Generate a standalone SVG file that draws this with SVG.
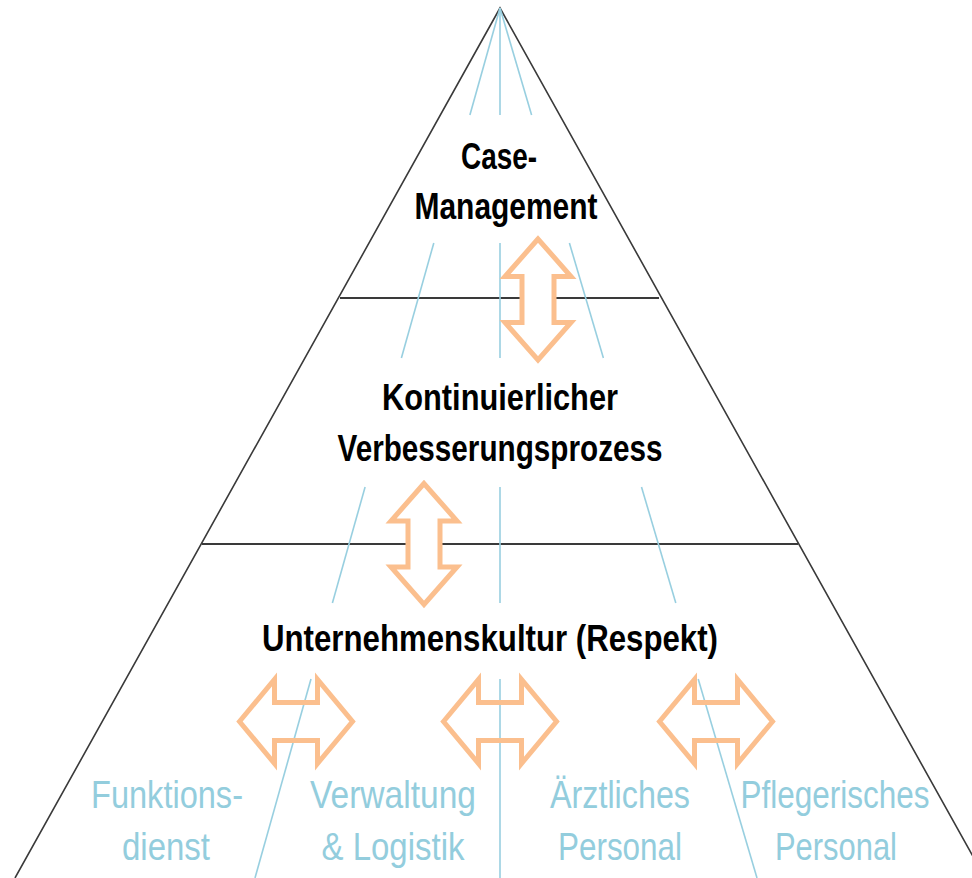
<svg xmlns="http://www.w3.org/2000/svg" width="972" height="878" viewBox="0 0 972 878">
<defs>
<style>
.edge{stroke:#3a3a3a;stroke-width:1.6;fill:none}
.tier{stroke:#3a3a3a;stroke-width:2;fill:none}
.ray{stroke:#98cfe0;stroke-width:1.6;fill:none}
.arrow{stroke:#fbbf8e;stroke-width:5;stroke-linejoin:miter}
.va{fill:#ffffff}
.ha{fill:none}
.main{font-family:"Liberation Sans",Arial,sans-serif;font-weight:bold;font-size:36px;fill:#000000;text-anchor:middle}
.sub{font-family:"Liberation Sans",Arial,sans-serif;font-size:39px;fill:#93cddd;text-anchor:middle}
</style>
<path id="varrow" d="M0,-60.5 L-33,-23 L-16,-23 L-16,23 L-33,23 L0,60.5 L33,23 L16,23 L16,-23 L33,-23 Z"/>
<path id="harrow" d="M-56.5,0 L-21.5,-42 L-21.5,-19 L21.5,-19 L21.5,-42 L56.5,0 L21.5,42 L21.5,19 L-21.5,19 L-21.5,42 Z"/>
</defs>
<rect width="972" height="878" fill="#ffffff"/>
<g id="pyramid">
<polyline class="edge" points="15,878 500,8 985,878"/>
<line class="tier" x1="340" y1="298" x2="659" y2="298"/>
<line class="tier" x1="202" y1="544" x2="798" y2="544"/>
</g>
<g id="rays">
<line class="ray" x1="500" y1="8" x2="469.9" y2="115"/>
<line class="ray" x1="500" y1="8" x2="500" y2="115"/>
<line class="ray" x1="500" y1="8" x2="531.6" y2="115"/>
<line class="ray" x1="433.8" y1="243" x2="401.4" y2="358"/>
<line class="ray" x1="500" y1="243" x2="500" y2="358"/>
<line class="ray" x1="569.4" y1="243" x2="603.4" y2="358"/>
<line class="ray" x1="365.1" y1="487" x2="332.4" y2="603"/>
<line class="ray" x1="500" y1="487" x2="500" y2="603"/>
<line class="ray" x1="641.5" y1="487" x2="675.8" y2="603"/>
<line class="ray" x1="311" y1="679" x2="255" y2="878"/>
<line class="ray" x1="500" y1="679" x2="500" y2="878"/>
<line class="ray" x1="698.2" y1="679" x2="757" y2="878"/>
</g>
<g id="connectors">
<use href="#varrow" class="arrow va" transform="translate(538,299.5)"/>
<use href="#varrow" class="arrow va" transform="translate(424,544)"/>
<use href="#harrow" class="arrow ha" transform="translate(296,721.5)"/>
<use href="#harrow" class="arrow ha" transform="translate(500,721.5)"/>
<use href="#harrow" class="arrow ha" transform="translate(716,721.5)"/>
</g>
<g id="case-management">
<text class="main" x="499" y="169" textLength="76" lengthAdjust="spacingAndGlyphs">Case-</text>
<text class="main" x="506" y="219" textLength="183" lengthAdjust="spacingAndGlyphs">Management</text>
</g>
<g id="kvp">
<text class="main" x="500" y="410" textLength="236" lengthAdjust="spacingAndGlyphs">Kontinuierlicher</text>
<text class="main" x="500" y="461" textLength="325" lengthAdjust="spacingAndGlyphs">Verbesserungsprozess</text>
</g>
<g id="unternehmenskultur">
<text class="main" x="490" y="651" textLength="456" lengthAdjust="spacingAndGlyphs">Unternehmenskultur (Respekt)</text>
</g>
<g id="funktionsdienst">
<text class="sub" x="167" y="808" textLength="152" lengthAdjust="spacingAndGlyphs">Funktions-</text>
<text class="sub" x="166" y="860" textLength="88" lengthAdjust="spacingAndGlyphs">dienst</text>
</g>
<g id="verwaltung">
<text class="sub" x="393" y="808" textLength="166" lengthAdjust="spacingAndGlyphs">Verwaltung</text>
<text class="sub" x="393" y="860" textLength="143" lengthAdjust="spacingAndGlyphs">&amp; Logistik</text>
</g>
<g id="aerztliches">
<text class="sub" x="620" y="808" textLength="140" lengthAdjust="spacingAndGlyphs">Ärztliches</text>
<text class="sub" x="620" y="860" textLength="124" lengthAdjust="spacingAndGlyphs">Personal</text>
</g>
<g id="pflegerisches">
<text class="sub" x="835" y="808" textLength="189" lengthAdjust="spacingAndGlyphs">Pflegerisches</text>
<text class="sub" x="836" y="860" textLength="122" lengthAdjust="spacingAndGlyphs">Personal</text>
</g>
</svg>
